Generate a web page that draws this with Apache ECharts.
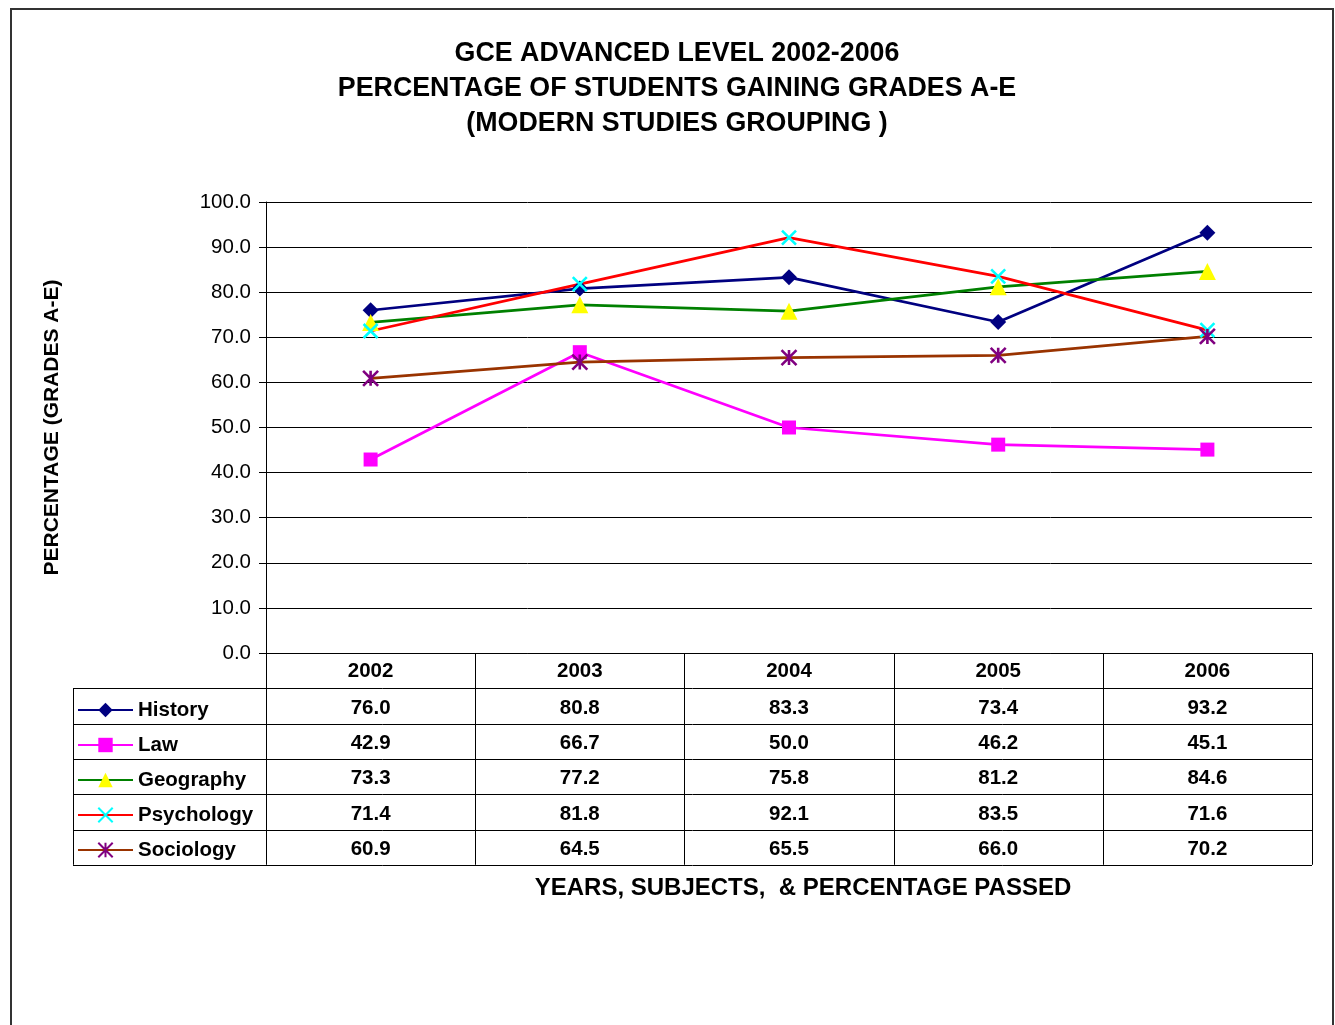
<!DOCTYPE html>
<html>
<head>
<meta charset="utf-8">
<script src="https://cdn.jsdelivr.net/npm/echarts@6/dist/echarts.min.js"></script>
<style>
  html, body { margin: 0; padding: 0; background: #fff; }
  #main { width: 1335px; height: 1025px; }
</style>
</head>
<body>
<div id="main"></div>
<script>
// data
var years = ['2002', '2003', '2004', '2005', '2006'];
var historyPct = [76.0, 80.8, 83.3, 73.4, 93.2];
var lawPct = [42.9, 66.7, 50.0, 46.2, 45.1];
var geographyPct = [73.3, 77.2, 75.8, 81.2, 84.6];
var psychologyPct = [71.4, 81.8, 92.1, 83.5, 71.6];
var sociologyPct = [60.9, 64.5, 65.5, 66.0, 70.2];
var subjects = ['History', 'Law', 'Geography', 'Psychology', 'Sociology'];
var yMin = 0, yMax = 100, yStep = 10;

var font = 'Liberation Sans, Arial, sans-serif';
var dom = document.getElementById('main');
var myChart = echarts.init(dom);

// grid box (table hangs under it)
var gLeft = 266, gRight = 1312, gTop = 202, gBottom = 653;
var rowH = 35.3;
var tableLeft = 73;

var crossPath = 'path://M0,0L10,10M10,0L0,10';
var starPath = 'path://M5,0L5,10M0,0L10,10M10,0L0,10';

function mkSeries(name, data, lineColor, symbol, size, markColor, strokeOnly) {
  return {
    name: name,
    type: 'line',
    data: data,
    symbol: symbol,
    symbolSize: size,
    showAllSymbol: true,
    lineStyle: { color: lineColor, width: 2.7 },
    itemStyle: {
      color: markColor,
      borderColor: markColor,
      borderWidth: strokeOnly ? 2.6 : 0
    },
    emphasis: { disabled: true },
    animation: false
  };
}

var option = {
  backgroundColor: '#fff',
  animation: false,
  title: {
    text: 'GCE ADVANCED LEVEL 2002-2006\nPERCENTAGE OF STUDENTS GAINING GRADES A-E\n(MODERN STUDIES GROUPING )',
    left: 672,
    top: 31,
    textAlign: 'center',
    textStyle: { fontFamily: font, fontSize: 26.8, fontWeight: 'bold', color: '#000', lineHeight: 35 }
  },
  legend: {
    orient: 'vertical',
    left: 72,
    top: 694,
    itemWidth: 55,
    itemHeight: 18,
    itemGap: 13,
    selectedMode: false,
    data: subjects,
    textStyle: { fontFamily: font, fontSize: 20.5, fontWeight: 'bold', color: '#000', lineHeight: 22 }
  },
  grid: { left: gLeft, right: 1335 - gRight, top: gTop, bottom: 1025 - gBottom },
  xAxis: {
    type: 'category',
    data: years,
    boundaryGap: true,
    axisLine: { show: false },
    axisTick: { show: false },
    axisLabel: { show: false }
  },
  yAxis: {
    type: 'value',
    min: yMin,
    max: yMax,
    interval: yStep,
    name: 'PERCENTAGE (GRADES A-E)',
    nameLocation: 'middle',
    nameRotate: 90,
    nameGap: 203,
    nameTextStyle: { fontFamily: font, fontSize: 21, fontWeight: 'bold', color: '#000' },
    axisLine: { show: true, lineStyle: { color: '#000', width: 1 } },
    axisTick: { show: true, length: 7, lineStyle: { color: '#000' } },
    axisLabel: {
      margin: 15,
      fontFamily: font,
      fontSize: 20.5,
      color: '#000',
      formatter: function (v) { return v.toFixed(1); }
    },
    splitLine: { show: true, lineStyle: { color: '#000', width: 1 } }
  },
  series: [
    mkSeries('History', historyPct, '#000080', 'diamond', 16, '#000080', false),
    mkSeries('Law', lawPct, '#FF00FF', 'rect', 14, '#FF00FF', false),
    mkSeries('Geography', geographyPct, '#008000', 'triangle', 17, '#FFFF00', false),
    mkSeries('Psychology', psychologyPct, '#FF0000', crossPath, 14, '#00FFFF', true),
    mkSeries('Sociology', sociologyPct, '#993300', starPath, 15, '#800080', true)
  ]
};

myChart.setOption(option);

// table under the plot: grid lines + year headers + values
var rows = [historyPct, lawPct, geographyPct, psychologyPct, sociologyPct];
var colW = (gRight - gLeft) / years.length;
var g = [];
var lineSt = { stroke: '#000', lineWidth: 1 };

// outer border of the sheet
g.push({ type: 'rect', shape: { x: 11, y: 9, width: 1322, height: 1040 }, style: { fill: 'none', stroke: '#333', lineWidth: 2 }, silent: true });

// header row box
g.push({ type: 'line', shape: { x1: gLeft, y1: gBottom + 0.5, x2: gRight, y2: gBottom + 0.5 }, style: lineSt });
var tableBottom = gBottom + rowH * (rows.length + 1);
for (var r = 1; r <= rows.length + 1; r++) {
  var yy = Math.round(gBottom + rowH * r) + 0.5;
  g.push({ type: 'line', shape: { x1: tableLeft, y1: yy, x2: gRight, y2: yy }, style: lineSt });
}
g.push({ type: 'line', shape: { x1: tableLeft + 0.5, y1: gBottom + rowH, x2: tableLeft + 0.5, y2: tableBottom }, style: lineSt });
for (var c = 0; c <= years.length; c++) {
  var xx = Math.round(gLeft + colW * c) + 0.5;
  g.push({ type: 'line', shape: { x1: xx, y1: gBottom, x2: xx, y2: tableBottom }, style: lineSt });
}

years.forEach(function (yr, i) {
  var cx = myChart.convertToPixel({ xAxisIndex: 0 }, yr);
  g.push({
    type: 'text', x: cx, y: gBottom + rowH / 2 + 1,
    style: { text: yr, font: 'bold 20.5px ' + font, fill: '#000', align: 'center', verticalAlign: 'middle' }
  });
  rows.forEach(function (vals, r) {
    g.push({
      type: 'text', x: cx, y: gBottom + rowH * (r + 1.5) + 2,
      style: { text: vals[i].toFixed(1), font: 'bold 20.5px ' + font, fill: '#000', align: 'center', verticalAlign: 'middle' }
    });
  });
});

g.push({
  type: 'text', x: 803, y: 888,
  style: { text: 'YEARS, SUBJECTS,  & PERCENTAGE PASSED', font: 'bold 24px ' + font, fill: '#000', align: 'center', verticalAlign: 'middle' }
});

myChart.setOption({ graphic: g });

window.onresize = () => {
  myChart.resize();
}
</script>
</body>
</html>
